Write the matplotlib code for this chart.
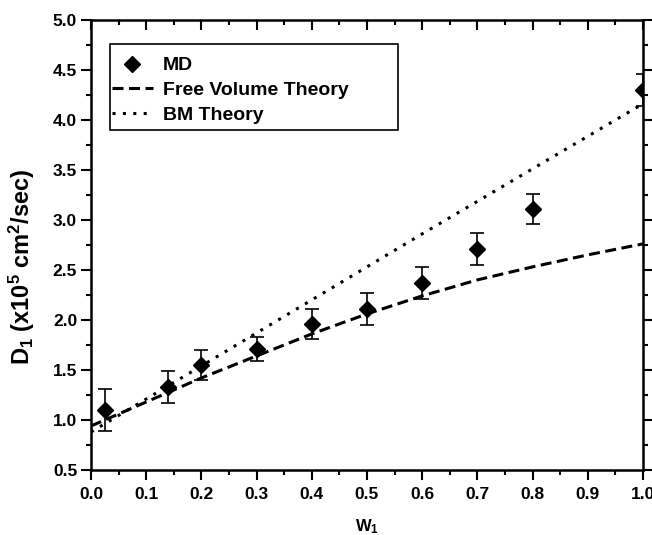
import matplotlib.pyplot as plt
from matplotlib.patches import Rectangle
from matplotlib.ticker import MultipleLocator

plt.rcParams['font.family'] = ['Liberation Sans', 'DejaVu Sans']
plt.rcParams['font.weight'] = 'bold'
plt.rcParams['mathtext.fontset'] = 'custom'
plt.rcParams['mathtext.rm'] = 'Liberation Sans:bold'
plt.rcParams['mathtext.bf'] = 'Liberation Sans:bold'
plt.rcParams['mathtext.it'] = 'Liberation Sans:bold'
plt.rcParams['mathtext.default'] = 'bf'

# MD simulation points
md_w = [0.025, 0.14, 0.2, 0.3, 0.4, 0.5, 0.6, 0.7, 0.8, 1.0]
md_d = [1.10, 1.33, 1.55, 1.71, 1.96, 2.11, 2.37, 2.71, 3.11, 4.30]
md_err = [0.21, 0.16, 0.15, 0.12, 0.15, 0.16, 0.16, 0.16, 0.15, 0.16]

# theory curves
fv_w = [0.0, 0.1, 0.2, 0.3, 0.4, 0.5, 0.6, 0.7, 0.8, 0.9, 1.0]
fv_d = [0.94, 1.18, 1.42, 1.64, 1.86, 2.06, 2.24, 2.40, 2.53, 2.65, 2.76]
bm_w = [0.0, 0.2, 0.4, 0.6, 0.8, 1.0]
bm_d = [0.88, 1.54, 2.20, 2.86, 3.51, 4.16]

fig = plt.figure(figsize=(6.52, 5.35), dpi=100)
ax = fig.add_axes([0.1396, 0.1215, 0.8464, 0.8415])

ax.errorbar(md_w, md_d, yerr=md_err, fmt='none', ecolor='black', elinewidth=1.2,
            capsize=5, capthick=1.2, zorder=3)
ax.plot(md_w, md_d, 'D', color='black', markersize=8, label='MD', zorder=4)
ax.plot(fv_w, fv_d, color='black', linestyle=(0, (3.6, 1.8)), linewidth=2.2,
        label='Free Volume Theory')
ax.plot(bm_w, bm_d, color='black', linestyle=(0, (1, 2.4)), linewidth=2.2,
        label='BM Theory')

ax.set_xlim(0.0, 1.0)
ax.set_ylim(0.5, 5.0)
ax.xaxis.set_major_locator(MultipleLocator(0.1))
ax.xaxis.set_minor_locator(MultipleLocator(0.05))
ax.yaxis.set_major_locator(MultipleLocator(0.5))
ax.yaxis.set_minor_locator(MultipleLocator(0.25))
ax.tick_params(which='both', direction='out', width=1.5, labelsize=12.5)
ax.tick_params(axis='x', pad=5)
ax.tick_params(axis='y', pad=3)
ax.tick_params(which='major', length=7)
ax.tick_params(which='minor', length=3.6)
ax.tick_params(which='both', top=True, right=True, labeltop=False, labelright=False)
for t in ax.xaxis.get_ticklines(minor=False)[1::2] + ax.xaxis.get_ticklines(minor=True)[1::2]:
    t.set_marker(3)  # top ticks point in
for t in ax.yaxis.get_ticklines(minor=False)[1::2] + ax.yaxis.get_ticklines(minor=True)[1::2]:
    t.set_marker(1)  # right ticks point in
for s in ax.spines.values():
    s.set_linewidth(1.8)

ax.set_xlabel('W$_1$', fontsize=12, fontweight='bold', labelpad=11)
ax.set_ylabel('D$_1$ (x10$^5$ cm$^2$/sec)', fontsize=17, fontweight='bold')
ax.yaxis.set_label_coords(-0.098, 0.451)

# legend: frame drawn separately so the handles sit close to the left border
ax.add_patch(Rectangle((0.034, 0.756), 0.522, 0.191, transform=ax.transAxes,
                       fill=False, edgecolor='black', linewidth=1.2, zorder=5))
leg = ax.legend(loc='upper left', bbox_to_anchor=(0.038, 0.918), frameon=False,
                fontsize=14, handlelength=2.1, handletextpad=0.5, borderpad=0,
                labelspacing=0.36, borderaxespad=0)

plt.savefig('out.png', dpi=100)
